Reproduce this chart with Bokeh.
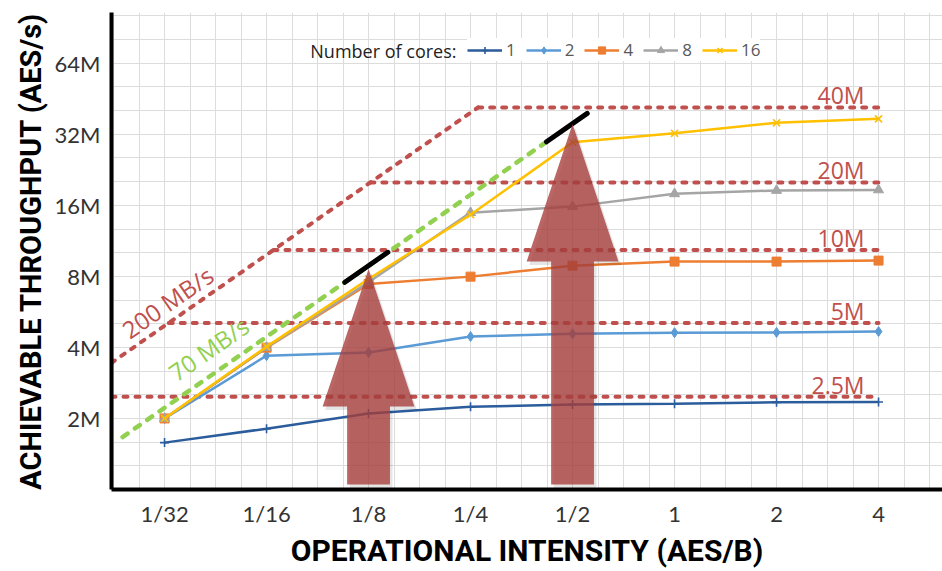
import numpy as np
from bokeh.plotting import figure
from bokeh.models import FixedTicker, Label, Legend, LegendItem, Range1d
from bokeh.embed import file_html
from bokeh.resources import INLINE

# ---------------- data ----------------
oi = [1/32, 1/16, 1/8, 1/4, 1/2, 1, 2, 4]
oi_labels = ["1/32", "1/16", "1/8", "1/4", "1/2", "1", "2", "4"]

cores = ["1", "2", "4", "8", "16"]
thr_1 = [1.58, 1.81, 2.10, 2.24, 2.29, 2.31, 2.34, 2.35]      # millions AES/s
thr_2 = [2.00, 3.69, 3.81, 4.45, 4.57, 4.62, 4.63, 4.67]
thr_4 = [2.00, 3.99, 7.43, 7.98, 8.88, 9.24, 9.24, 9.33]
thr_8 = [2.00, 4.00, 7.55, 14.9, 15.8, 17.9, 18.5, 18.6]
thr_16 = [2.00, 4.03, 7.80, 14.6, 29.6, 32.3, 35.8, 37.2]

y_ticks = [2, 4, 8, 16, 32, 64]
y_tick_labels = ["2M", "4M", "8M", "16M", "32M", "64M"]

ceilings = [2.47, 5.08, 10.35, 20.0, 41.6]
ceiling_labels = ["2.5M", "5M", "10M", "20M", "40M"]
bw_high = 158.0          # slope of the "200 MB/s" roof as drawn
bw_high_label = "200 MB/s"
bw_low = 71.0            # slope of the "70 MB/s" roof as drawn
bw_low_label = "70 MB/s"
green_span = [0.0235, 0.419]
black_spans = [[0.1064, 0.1425], [0.419, 0.5525]]

arrow_at = [1/8, 1/2]
arrow_foot = [1.05, 1.05]
arrow_neck = [2.25, 9.26]
arrow_tip = [8.6, 35.4]

x_title = "OPERATIONAL INTENSITY (AES/B)"
y_title = "ACHIEVABLE THROUGHPUT (AES/s)"

# ---------------- styles ----------------
colors = ["#2B5C9B", "#5B9BD5", "#ED7D31", "#A5A5A5", "#FFC000"]
markers = ["cross", "diamond", "square", "triangle", "x"]
msizes = [9, 10, 9, 10, 10]
RED = "#C0504D"
GREEN = "#92D050"
TITLE_FONT = "Roboto"

W, H = 942, 571
BL, BT, BB = 111, 12, 82

x_lo, x_hi = 2 ** -5.52, 2 ** 2.627
y_lo, y_hi = 1.0, 105.0

p = figure(width=W, height=H, x_axis_type="log", y_axis_type="log",
           x_range=Range1d(x_lo, x_hi), y_range=Range1d(y_lo, y_hi),
           output_backend="svg", toolbar_location=None,
           min_border_left=BL, min_border_right=0, min_border_top=BT, min_border_bottom=BB)
p.outline_line_color = None
p.background_fill_color = "white"

# grid
p.xgrid.ticker = FixedTicker(ticks=[2 ** (k / 4 - 5) for k in range(-3, 32)])
p.ygrid.ticker = FixedTicker(ticks=[2 ** (k / 3) for k in range(0, 22)])
for g in (p.xgrid, p.ygrid):
    g.grid_line_color = "#dcdcdc"
    g.grid_line_width = 1

# axes
p.xaxis.ticker = FixedTicker(ticks=oi)
p.xaxis.major_label_overrides = {v: s for v, s in zip(oi, oi_labels)}
p.yaxis.ticker = FixedTicker(ticks=y_ticks)
p.yaxis.major_label_overrides = {v: s for v, s in zip(y_ticks, y_tick_labels)}
for ax in (p.xaxis, p.yaxis):
    ax.axis_line_width = 4
    ax.axis_line_color = "black"
    ax.major_tick_line_color = None
    ax.minor_tick_line_color = None
    ax.major_tick_out = 0
    ax.major_tick_in = 0
    ax.major_label_text_font = "Lato"
    ax.major_label_text_font_size = "22px"
    ax.major_label_text_color = "#333333"
    ax.axis_label_text_font = TITLE_FONT
    ax.axis_label_text_font_style = "bold"
    ax.axis_label_text_color = "black"
p.xaxis.axis_label = x_title
p.yaxis.axis_label = y_title
p.xaxis.axis_label_text_font_size = "30px"
p.yaxis.axis_label_text_font_size = "29px"
p.xaxis.axis_label_text_line_height = 0.6
p.xaxis.major_label_standoff = 10
p.yaxis.major_label_standoff = 11
p.xaxis.axis_label_standoff = 3
p.yaxis.axis_label_standoff = 4

# roofline (red)
roof_style = dict(line_color=RED, line_width=4, line_dash="4 8", line_cap="round")
p.line([x_lo, ceilings[-1] / bw_high], [bw_high * x_lo, ceilings[-1]], **roof_style)
for c in ceilings:
    p.line([max(c / bw_high, x_lo), oi[-1]], [c, c], **roof_style)

# series
series = [thr_1, thr_2, thr_4, thr_8, thr_16]
items = []
for name, ys, col, mk, ms in zip(cores, series, colors, markers, msizes):
    lr = p.line(oi, ys, line_color=col, line_width=2.5)
    sr = p.scatter(oi, ys, marker=mk, size=ms, fill_color=col, line_color=col,
                   line_width=1.6 if mk in ("cross", "x") else 1)
    items.append(LegendItem(label=name, renderers=[lr, sr]))

# green roof and black segments
p.line(green_span, [bw_low * v for v in green_span], line_color=GREEN, line_width=4.5,
       line_dash="6 9", line_cap="round")
for seg in black_spans:
    p.line(seg, [bw_low * v for v in seg], line_color="black", line_width=5, line_cap="round")

# arrows
ws, wh = 0.21, 0.45
axs, ays, sxs, sys_ = [], [], [], []
for c, f, n, t in zip(arrow_at, arrow_foot, arrow_neck, arrow_tip):
    xs = [c * 2 ** -ws, c * 2 ** -ws, c * 2 ** -wh, c, c * 2 ** wh, c * 2 ** ws, c * 2 ** ws]
    ys = [f, n, n, t, n, n, f]
    axs.append(xs)
    ays.append(ys)
    sxs.append([x * 2 ** 0.025 for x in xs])
    sys_.append([y * 2 ** -0.05 for y in ys])
p.patches(sxs, sys_, fill_color="black", fill_alpha=0.10, line_color=None)
p.patches(axs, ays, fill_color="#A8403D", fill_alpha=0.8, line_color=None)

# labels
for c, lbl in zip(ceilings, ceiling_labels):
    p.add_layout(Label(x=oi[-1], y=c, x_offset=-14, y_offset=12, text=lbl,
                       text_align="right", text_baseline="middle",
                       text_font="Open Sans", text_font_size="23px", text_color=RED))
p.add_layout(Label(x=0.0243, y=4.38, x_offset=-3, y_offset=6, text=bw_high_label, angle=0.608,
                   text_align="left", text_baseline="middle",
                   text_font="Open Sans", text_font_size="24px", text_color=RED))
p.add_layout(Label(x=0.0334, y=2.91, x_offset=-3, y_offset=5, text=bw_low_label, angle=0.608,
                   text_align="left", text_baseline="middle",
                   text_font="Open Sans", text_font_size="24px", text_color=GREEN))

# legend
legend = Legend(items=items, orientation="horizontal", location=(356, 428),
                glyph_width=35, glyph_height=18, label_standoff=4, spacing=10,
                padding=5, margin=0, label_width=0,
                label_text_font="Open Sans", label_text_font_size="17px",
                label_text_color="#595959", border_line_color=None,
                background_fill_color="white", background_fill_alpha=1.0)
p.add_layout(legend)
p.add_layout(Label(x=345, y=439, x_units="screen", y_units="screen",
                   text="Number of cores:", text_align="right", text_baseline="middle",
                   text_font="Open Sans", text_font_size="18px", text_color="#222222"))

open("out.html", "w").write(file_html(p, INLINE))
